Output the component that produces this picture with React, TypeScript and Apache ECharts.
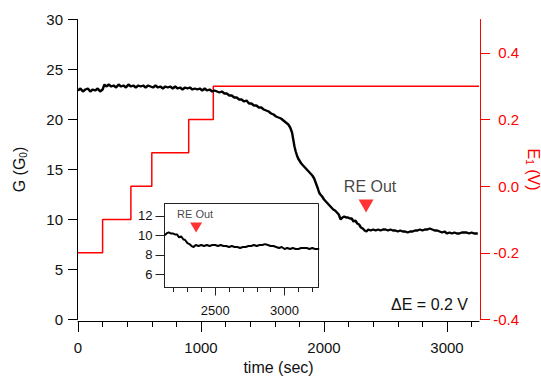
import React, { useEffect, useRef } from 'react';
import * as echarts from 'echarts';

// time (sec) and conductance G (G0)
const timeSec = [
  0, 20, 40, 60, 80, 100, 120, 140, 160, 180, 200, 215, 230, 250, 270, 290, 310, 330, 350, 370,
  390, 410, 430, 450, 470, 490, 510, 530, 550, 570, 590, 610, 630, 650, 670, 690, 710, 730, 750, 770,
  790, 810, 830, 850, 870, 890, 910, 930, 950, 970, 990, 1010, 1030, 1050, 1070, 1090, 1110, 1130, 1150, 1170,
  1190, 1210, 1230, 1250, 1270, 1290, 1310, 1330, 1350, 1370, 1390, 1410, 1430, 1450, 1470, 1490, 1510, 1530, 1550, 1570,
  1590, 1610, 1630, 1650, 1670, 1690, 1710, 1725, 1740, 1750, 1760, 1770, 1780, 1790, 1800, 1815, 1830, 1845, 1860, 1875,
  1890, 1905, 1920, 1935, 1950, 1960, 1970, 1985, 2000, 2015, 2030, 2045, 2060, 2075, 2090, 2105, 2120, 2135, 2150, 2165,
  2180, 2195, 2210, 2225, 2240, 2255, 2270, 2285, 2300, 2315, 2330, 2345, 2360, 2380, 2400, 2420, 2440, 2460, 2480, 2500,
  2520, 2540, 2560, 2580, 2600, 2620, 2640, 2660, 2680, 2700, 2720, 2740, 2760, 2780, 2800, 2820, 2840, 2860, 2880, 2900,
  2920, 2940, 2960, 2980, 3000, 3020, 3040, 3060, 3080, 3100, 3120, 3140, 3160, 3180, 3200, 3220, 3240, 3250,
];
const conductance = [
  22.9, 23.1, 22.8, 23.0, 23.1, 22.8, 23.0, 22.9, 23.1, 22.8, 23.0, 23.5, 23.3, 23.5, 23.3, 23.4, 23.2, 23.5, 23.3, 23.4,
  23.2, 23.5, 23.3, 23.4, 23.2, 23.4, 23.3, 23.4, 23.2, 23.4, 23.3, 23.2, 23.4, 23.2, 23.3, 23.1, 23.3, 23.2, 23.3, 23.1,
  23.3, 23.1, 23.2, 23.0, 23.2, 23.1, 23.2, 23.0, 23.1, 23.0, 23.1, 22.9, 23.1, 22.9, 23.0, 22.8, 22.9, 22.8, 22.7, 22.8,
  22.6, 22.6, 22.4, 22.4, 22.2, 22.2, 22.0, 22.0, 21.8, 21.9, 21.6, 21.6, 21.4, 21.4, 21.2, 21.2, 21.0, 20.9, 20.8, 20.6,
  20.5, 20.3, 20.2, 20.1, 19.9, 19.7, 19.5, 19.2, 18.7, 18.0, 17.3, 16.8, 16.4, 16.1, 15.9, 15.6, 15.4, 15.2, 15.0, 14.8,
  14.6, 14.4, 14.1, 13.6, 13.1, 12.7, 12.5, 12.3, 12.0, 11.8, 11.6, 11.4, 11.2, 11.0, 10.9, 10.7, 10.5, 10.0, 10.2, 10.3,
  10.2, 10.2, 10.1, 10.1, 9.8, 9.9, 9.6, 9.5, 9.2, 9.1, 8.9, 8.8, 9.0, 8.9, 9.0, 8.9, 9.0, 8.9, 9.0, 9.0,
  8.9, 9.0, 8.9, 8.9, 8.8, 8.9, 8.8, 8.8, 8.7, 8.8, 8.8, 8.9, 8.9, 9.0, 8.9, 9.0, 9.0, 9.1, 9.0, 8.9,
  8.9, 8.8, 8.7, 8.8, 8.6, 8.7, 8.6, 8.7, 8.6, 8.6, 8.7, 8.7, 8.7, 8.6, 8.7, 8.6, 8.6, 8.6,
];

// applied potential E1 (V) steps
const stepTime = [0, 200, 430, 600, 900, 1100, 3260];
const stepPotential = [-0.2, -0.1, 0.0, 0.1, 0.2, 0.3, 0.3];

// tick values
const mainMajorTicks = [0, 1000, 2000, 3000];
const mainMinorTicks = [0, 200, 400, 600, 800, 1000, 1200, 1400, 1600, 1800, 2000, 2200, 2400, 2600, 2800, 3000, 3200];
const rightTicks = [-0.4, -0.2, 0, 0.2, 0.4];
const insetMajorTicks = [2500, 3000];
const insetMinorTicks = [2200, 2300, 2400, 2500, 2600, 2700, 2800, 2900, 3000, 3100, 3200];
const insetYTicks = [6, 8, 10, 12];

// "RE Out" markers [time, G]
const reOutMain = [2342, 11.35];
const reOutInset = [2363, 10.8];

const FONT = '"Liberation Sans", Arial, sans-serif';

export default function App() {
  const ref = useRef<HTMLDivElement>(null);
  useEffect(() => {
    if (!ref.current) return;
    const chart = echarts.init(ref.current, undefined, { renderer: 'svg' });
    const gData = timeSec.map((t, i) => [t, conductance[i]]);
    const insetData = gData.filter((p) => p[0] >= 2130 && p[0] <= 3250);
    const eData = stepTime.map((t, i) => [t, stepPotential[i]]);
    const black = '#000';
    const red = '#ff0000';
    const plain = (v: number) => String(v);

    chart.setOption({
      animation: false,
      backgroundColor: '#fff',
      textStyle: { fontFamily: FONT },
      grid: [
        { left: 78, top: 19.5, width: 401, height: 300, containLabel: false, outerBoundsMode: 'none' },
        {
          left: 164.5, top: 203.5, width: 154, height: 84, show: true, outerBoundsMode: 'none',
          backgroundColor: '#fff', borderColor: '#222', borderWidth: 1, z: 5,
        },
      ],
      xAxis: [
        {
          type: 'value', gridIndex: 0, min: 0, max: 3260, position: 'bottom', offset: 1.5,
          axisLine: { show: true, onZero: false, lineStyle: { color: black, width: 1 } },
          axisTick: { show: true, customValues: mainMinorTicks, length: 6, lineStyle: { color: black } },
          axisLabel: { show: false },
          splitLine: { show: false },
        },
        {
          type: 'value', gridIndex: 0, min: 0, max: 3260, position: 'bottom', offset: 1.5,
          axisLine: { show: false, onZero: false },
          axisTick: { show: true, customValues: mainMajorTicks, length: 11, lineStyle: { color: black } },
          axisLabel: {
            show: true, customValues: mainMajorTicks, fontSize: 15, color: '#111', margin: 19,
            fontFamily: FONT, formatter: plain,
          },
          splitLine: { show: false },
          name: 'time (sec)', nameLocation: 'middle', nameGap: 38, nameMoveOverlap: false,
          nameTextStyle: { fontSize: 16, color: '#111', fontFamily: FONT },
        },
        {
          type: 'value', gridIndex: 1, min: 2135, max: 3245, position: 'bottom',
          axisLine: { show: true, onZero: false, lineStyle: { color: '#222' } },
          axisTick: { show: true, customValues: insetMinorTicks, length: 4.5, lineStyle: { color: '#222' } },
          axisLabel: { show: false },
          splitLine: { show: false },
          z: 6,
        },
        {
          type: 'value', gridIndex: 1, min: 2135, max: 3245, position: 'bottom',
          axisLine: { show: false, onZero: false },
          axisTick: { show: true, customValues: insetMajorTicks, length: 8, lineStyle: { color: '#222' } },
          axisLabel: {
            show: true, customValues: insetMajorTicks, fontSize: 13, color: '#111', margin: 16,
            fontFamily: FONT, formatter: plain,
          },
          splitLine: { show: false },
          z: 6,
        },
      ],
      yAxis: [
        {
          type: 'value', gridIndex: 0, min: 0, max: 30, interval: 5, position: 'left', offset: 1,
          axisLine: { show: true, onZero: false, lineStyle: { color: black } },
          axisTick: { show: true, length: 9, lineStyle: { color: black } },
          axisLabel: { fontSize: 15, color: '#111', margin: 14, fontFamily: FONT },
          splitLine: { show: false },
          name: 'G (G{s|0})', nameLocation: 'middle', nameGap: 49, nameMoveOverlap: false,
          nameTextStyle: {
            fontSize: 16, color: '#111', fontFamily: FONT,
            rich: { s: { fontSize: 10, color: '#111', fontFamily: FONT, padding: [8, 0, 0, 0] } },
          },
        },
        {
          type: 'value', gridIndex: 0, min: -0.4, max: 0.5, position: 'right', offset: 1,
          axisLine: { show: true, onZero: false, lineStyle: { color: red } },
          axisTick: { show: true, customValues: rightTicks, length: 10, lineStyle: { color: red } },
          axisLabel: {
            customValues: rightTicks, fontSize: 15, color: red, margin: 39, align: 'right', fontFamily: FONT,
            formatter: (v: number) => v.toFixed(1),
          },
          splitLine: { show: false },
          name: 'E{s|1} (V)', nameLocation: 'middle', nameGap: 44, nameRotate: -90, nameMoveOverlap: false,
          nameTextStyle: {
            fontSize: 16, color: red, fontFamily: FONT,
            rich: { s: { fontSize: 10, color: red, fontFamily: FONT, padding: [8, 0, 0, 0] } },
          },
        },
        {
          type: 'value', gridIndex: 1, min: 4.63, max: 13.28, position: 'left',
          axisLine: { show: true, onZero: false, lineStyle: { color: '#222' } },
          axisTick: { show: true, customValues: insetYTicks, length: 9, lineStyle: { color: '#222' } },
          axisLabel: { customValues: insetYTicks, fontSize: 13, color: '#111', margin: 12, fontFamily: FONT },
          splitLine: { show: false },
          z: 6,
        },
      ],
      series: [
        {
          type: 'line', xAxisIndex: 1, yAxisIndex: 1, data: eData, step: 'end', showSymbol: false,
          lineStyle: { color: red, width: 1.5 }, z: 2,
        },
        {
          type: 'line', xAxisIndex: 0, yAxisIndex: 0, data: gData, showSymbol: false,
          lineStyle: { color: black, width: 2.4 }, z: 3,
        },
        {
          type: 'scatter', xAxisIndex: 0, yAxisIndex: 0, data: [reOutMain],
          symbol: 'triangle', symbolRotate: 180, symbolSize: [15, 13],
          itemStyle: { color: red }, z: 4,
          label: {
            show: true, position: 'top', distance: 5, offset: [4, 0], formatter: 'RE Out',
            fontSize: 16, color: '#111', fontFamily: FONT,
          },
        },
        {
          type: 'line', xAxisIndex: 2, yAxisIndex: 2, data: insetData, showSymbol: false,
          lineStyle: { color: black, width: 2 }, z: 7,
        },
        {
          type: 'scatter', xAxisIndex: 2, yAxisIndex: 2, data: [reOutInset],
          symbol: 'triangle', symbolRotate: 180, symbolSize: [12, 10],
          itemStyle: { color: red }, z: 8,
          label: {
            show: true, position: 'top', distance: 3, offset: [-1, 0], formatter: 'RE Out',
            fontSize: 11, color: '#111', fontFamily: FONT,
          },
        },
      ],
      graphic: [
        {
          type: 'text', right: 73, top: 296, z: 10,
          style: { text: 'ΔE = 0.2 V', font: `16px ${FONT}`, fill: '#111' },
        },
      ],
    });
    return () => chart.dispose();
  }, []);
  return (
    <div
      ref={ref}
      style={{ position: 'fixed', left: 0, top: 0, width: 541, height: 378, background: '#fff' }}
    />
  );
}
